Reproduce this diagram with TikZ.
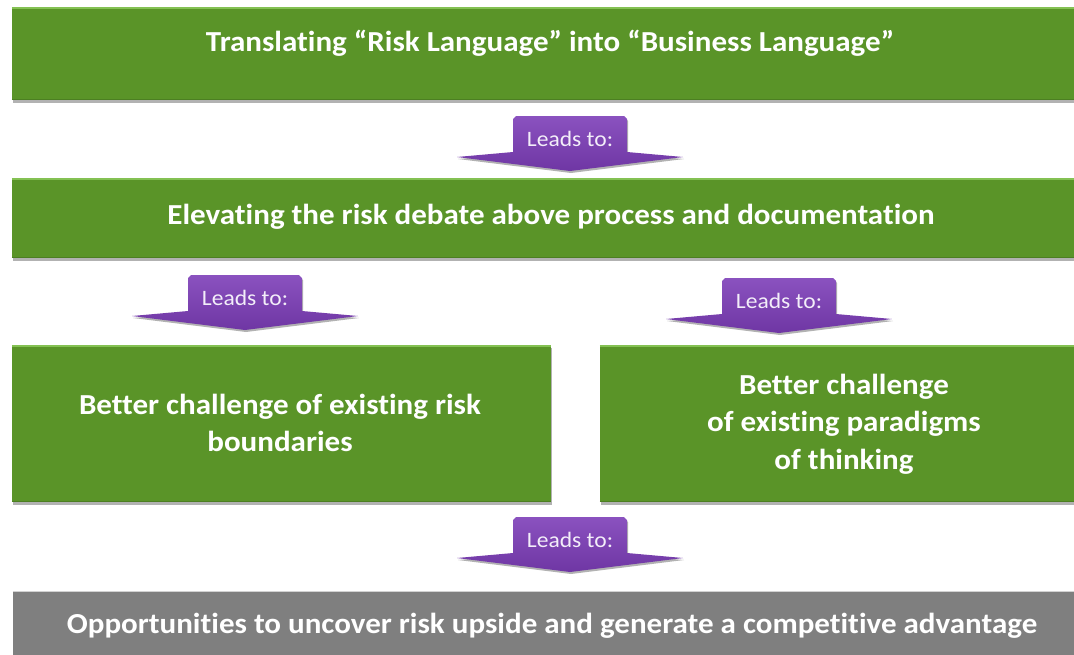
\documentclass[tikz,border=0pt]{standalone}
\usepackage{fontspec}
\setmainfont{Carlito}[Ligatures={NoCommon}, FakeStretch=1.07]
\usetikzlibrary{shadows}
\definecolor{boxgreen}{HTML}{5A9428}
\definecolor{edgegreen}{HTML}{84C153}
\definecolor{lowgreen}{HTML}{4C7F22}
\definecolor{arrowtop}{HTML}{8A52BF}
\definecolor{arrowbot}{HTML}{6F36A4}
\definecolor{boxgray}{HTML}{7F7F7F}
\tikzset{
  basebox/.style={draw=none, inner sep=0pt,
    drop shadow={shadow xshift=1pt, shadow yshift=-2.5pt, opacity=0.3, fill=black}},
  greenbox/.style={basebox, fill=boxgreen},
  graybox/.style={basebox, fill=boxgray},
  boxtext/.style={text=white, align=center, inner sep=0pt,
    font=\bfseries\fontsize{29}{37.5}\selectfont},
  leadsfont/.style={font=\fontsize{22}{24}\selectfont, text=white!90!arrowtop},
  arrowshape/.style={top color=arrowtop, bottom color=arrowbot, draw=none,
    drop shadow={shadow xshift=1pt, shadow yshift=-2pt, opacity=0.3, fill=black}},
  topedge/.style={edgegreen, line width=2pt},
  botedge/.style={lowgreen, line width=1.5pt},
}
\newcommand{\leadsarrow}[3]{%
  \begin{scope}[shift={(#2,#3)}]
    \path[arrowshape] (-57,3) -- (-54,0) -- (54,0) -- (57,3) -- (57,36)
      -- (113,41) -- (0,55) -- (-113,41) -- (-57,36) -- cycle;
    \node[leadsfont] (#1) at (0,23) {Leads to:};
  \end{scope}}
\newcommand{\bevel}[1]{%
  \draw[topedge] ([yshift=-1pt]#1.north west) -- ([yshift=-1pt]#1.north east);
  \draw[botedge] ([yshift=0.75pt]#1.south west) -- ([yshift=0.75pt]#1.south east);}
\begin{document}
\begin{tikzpicture}[x=1pt,y=-1pt]
  \useasboundingbox (0,0) rectangle (1074,654);
  \fill[white] (0,0) rectangle (1074,654);
  \clip (0,0) rectangle (1074,654);
  % boxes
  \node[greenbox, minimum width=1076pt, minimum height=93pt] (top) at (550,53.5) {};
  \node[greenbox, minimum width=1076pt, minimum height=80pt] (elev) at (550,218) {};
  \node[greenbox, minimum width=539pt, minimum height=157pt] (left) at (281.5,423.5) {};
  \node[greenbox, minimum width=488pt, minimum height=157pt] (right) at (844,423.5) {};
  \node[graybox, minimum width=1076pt, minimum height=70pt] (opp) at (551,626) {};
  \bevel{top}\bevel{elev}\bevel{left}\bevel{right}
  \draw[white!65!boxgray, line width=1.5pt] ([yshift=-0.75pt]opp.north west) -- ([yshift=-0.75pt]opp.north east);
  % texts
  \node[boxtext] (topt) at (550,43) {Translating “Risk Language” into “Business Language”};
  \node[boxtext] (elevt) at (551,217) {Elevating the risk debate above process and documentation};
  \node[boxtext] (leftt) at (280,423) {Better challenge of existing risk\\boundaries};
  \node[boxtext] (rightt) at (844,424) {Better challenge\\of existing paradigms\\of thinking};
  \node[boxtext] (oppt) at (552,626) {Opportunities to uncover risk upside and generate a competitive advantage};
  % arrows
  \leadsarrow{a1}{570}{116}
  \leadsarrow{a2}{245}{275}
  \leadsarrow{a3}{779}{278}
  \leadsarrow{a4}{570}{517}
\end{tikzpicture}
\end{document}
